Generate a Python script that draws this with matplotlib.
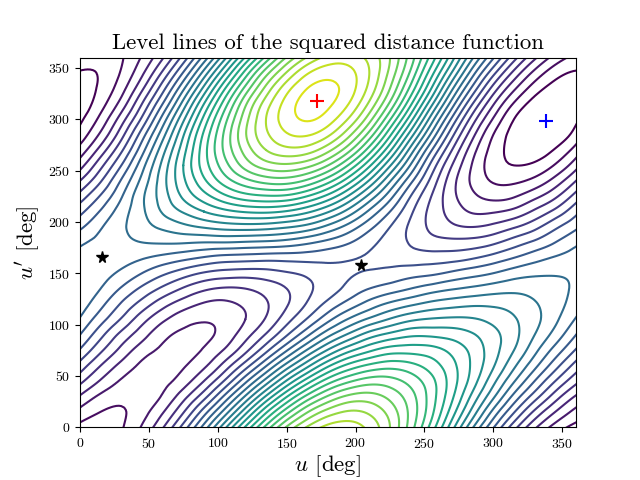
import numpy as np
import matplotlib
matplotlib.use('Agg')
import matplotlib.pyplot as plt
import matplotlib.tri as mtri

plt.rcParams['font.family'] = 'cmr10'
plt.rcParams['mathtext.fontset'] = 'cm'
plt.rcParams['axes.unicode_minus'] = False
plt.rcParams['axes.formatter.use_mathtext'] = True

# eccentric anomalies, one period; the field repeats at 360 deg
u_deg = list(range(0, 360, 15))
up_deg = list(range(0, 360, 15))

# distance field, in units of one contour spacing
# rows: u', columns: u
dist = [
[1.7,1.4,1.9,3.1,4.9,7.4,10.4,13.7,17.1,20.3,23.1,25.1,26.3,26.5,25.7,24.0,21.5,18.6,15.4,12.1,9.1,6.4,4.2,2.6],
[2.7,2.0,1.9,2.6,3.9,5.9,8.5,11.4,14.6,17.8,20.6,22.9,24.4,25.1,24.8,23.6,21.7,19.3,16.5,13.6,10.7,8.1,5.8,4.0],
[3.9,2.8,2.3,2.4,3.1,4.6,6.6,9.2,12.1,15.1,17.9,20.3,22.1,23.2,23.4,22.7,21.4,19.5,17.2,14.7,12.2,9.7,7.5,5.5],
[5.3,3.9,2.9,2.5,2.7,3.5,5.0,7.1,9.7,12.4,15.1,17.5,19.5,20.8,21.5,21.4,20.6,19.3,17.5,15.5,13.3,11.1,9.0,7.0],
[6.6,5.0,3.7,2.8,2.5,2.9,3.8,5.4,7.5,9.9,12.4,14.7,16.8,18.3,19.2,19.6,19.3,18.5,17.3,15.8,14.1,12.2,10.3,8.4],
[7.9,6.2,4.7,3.5,2.8,2.6,3.1,4.1,5.7,7.7,9.9,12.1,14.1,15.7,16.8,17.5,17.6,17.4,16.7,15.7,14.4,13.0,11.3,9.6],
[9.0,7.3,5.7,4.4,3.3,2.8,2.8,3.4,4.6,6.1,7.9,9.8,11.7,13.2,14.5,15.3,15.8,15.8,15.6,15.1,14.3,13.3,12.0,10.6],
[9.9,8.4,6.9,5.4,4.2,3.4,3.1,3.3,4.0,5.1,6.6,8.1,9.7,11.1,12.2,13.1,13.8,14.1,14.2,14.1,13.7,13.1,12.3,11.2],
[10.5,9.3,7.9,6.6,5.4,4.5,3.9,3.8,4.2,4.9,5.9,7.1,8.3,9.4,10.4,11.2,11.8,12.3,12.6,12.8,12.8,12.6,12.1,11.4],
[10.8,10.0,8.9,7.8,6.8,5.9,5.2,4.9,5.0,5.4,6.0,6.8,7.5,8.3,9.0,9.5,10.0,10.5,10.9,11.2,11.5,11.7,11.6,11.3],
[10.8,10.4,9.8,9.0,8.2,7.5,6.9,6.6,6.5,6.6,6.9,7.2,7.6,7.9,8.1,8.3,8.6,8.8,9.2,9.6,10.0,10.5,10.8,10.9],
[10.4,10.5,10.4,10.1,9.7,9.3,8.9,8.6,8.5,8.4,8.4,8.4,8.3,8.1,7.9,7.7,7.5,7.5,7.6,7.9,8.4,9.0,9.6,10.1],
[9.8,10.3,10.7,11.0,11.1,11.1,11.0,11.0,10.9,10.8,10.6,10.2,9.7,9.1,8.3,7.6,6.9,6.4,6.3,6.4,6.8,7.5,8.2,9.0],
[8.8,9.9,10.8,11.6,12.2,12.7,13.1,13.4,13.5,13.4,13.1,12.6,11.7,10.6,9.3,8.0,6.8,5.8,5.2,5.0,5.3,5.9,6.7,7.8],
[7.7,9.1,10.5,11.8,13.1,14.1,15.0,15.7,16.1,16.2,15.9,15.2,14.1,12.6,10.8,9.0,7.2,5.7,4.6,3.9,3.9,4.3,5.2,6.3],
[6.4,8.1,9.9,11.8,13.5,15.2,16.6,17.8,18.6,18.9,18.8,18.0,16.7,14.9,12.7,10.4,8.0,6.0,4.3,3.2,2.7,2.9,3.7,4.8],
[5.0,6.9,9.1,11.3,13.6,15.8,17.8,19.5,20.7,21.4,21.5,20.8,19.4,17.4,14.9,12.1,9.3,6.7,4.4,2.8,1.9,1.8,2.3,3.4],
[3.6,5.7,8.0,10.6,13.3,16.0,18.5,20.6,22.4,23.5,23.8,23.3,22.0,19.9,17.2,14.1,10.9,7.7,5.0,2.9,1.5,1.0,1.2,2.1],
[2.4,4.4,6.8,9.6,12.6,15.6,18.6,21.2,23.4,25.0,25.7,25.5,24.3,22.3,19.5,16.2,12.6,9.1,6.0,3.4,1.6,0.6,0.4,1.1],
[1.4,3.2,5.6,8.5,11.6,14.9,18.2,21.2,23.9,25.8,26.9,27.1,26.2,24.3,21.6,18.2,14.5,10.8,7.3,4.3,2.0,0.6,0.0,0.3],
[0.8,2.3,4.5,7.2,10.4,13.8,17.3,20.6,23.6,26.0,27.5,28.1,27.5,25.9,23.4,20.1,16.4,12.5,8.8,5.5,2.9,1.0,0.1,0.0],
[0.4,1.6,3.4,6.0,9.0,12.4,16.0,19.5,22.8,25.5,27.4,28.4,28.2,27.0,24.8,21.8,18.2,14.3,10.5,7.0,4.1,1.9,0.6,0.1],
[0.5,1.2,2.6,4.8,7.6,10.8,14.3,17.9,21.3,24.3,26.6,28.0,28.3,27.5,25.7,23.0,19.7,16.0,12.2,8.7,5.6,3.2,1.5,0.6],
[0.9,1.1,2.1,3.8,6.2,9.1,12.4,15.9,19.4,22.6,25.1,26.9,27.6,27.3,26.0,23.7,20.8,17.4,13.9,10.4,7.3,4.7,2.7,1.4],
]

# u, u' of the stationary points
max_pt = [172, 318]
min_pt = [338, 298]
saddle_u = [16, 204]
saddle_up = [166, 158]

level_vals = list(range(1, 29))

# repeat the table past both ends of the period, so the lines meet at the frame
Z = np.pad(np.array(dist), 2, mode='wrap')
x = np.r_[-30, -15, u_deg, 360, 375]
y = np.r_[-30, -15, up_deg, 360, 375]
X, Y = np.meshgrid(x, y)

# matplotlib's own cubic refinement, the table alone gives angular lines
tr = mtri.Triangulation(X.ravel(), Y.ravel())
interp = mtri.CubicTriInterpolator(tr, Z.ravel(), kind='min_E')
tr_fine, Z_fine = mtri.UniformTriRefiner(tr).refine_field(Z.ravel(), triinterpolator=interp, subdiv=3)

plt.figure()
plt.tricontour(tr_fine, Z_fine, levels=level_vals, cmap='viridis', linewidths=1.5, vmin=1, vmax=29.5)
plt.plot(max_pt[0], max_pt[1], marker='+', c='r', ms=10, mew=1.5)
plt.plot(min_pt[0], min_pt[1], marker='+', c='b', ms=10, mew=1.5)
plt.plot(saddle_u, saddle_up, marker='*', c='k', ls='None', ms=8.5)
plt.xlim(0, 360)
plt.ylim(0, 360)
plt.title('Level lines of the squared distance function', fontsize=16.4)
plt.xlabel(r'$u$ [deg]', fontsize=16.5, labelpad=2)
plt.ylabel(r"$u'$ [deg]", fontsize=16.5)
plt.savefig('out.png', dpi=100)
